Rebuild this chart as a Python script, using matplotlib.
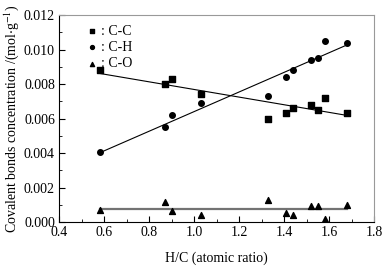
import numpy as np
import matplotlib.pyplot as plt
from matplotlib.ticker import MultipleLocator

plt.rcParams['font.family'] = ['Liberation Serif', 'DejaVu Serif']
plt.rcParams['mathtext.fontset'] = 'stix'

# H/C atomic ratio of each sample
hc = [0.58, 0.87, 0.90, 1.03, 1.33, 1.41, 1.44, 1.52, 1.55, 1.58, 1.68]

# bond concentrations (mol/g)
cc = [0.0088, 0.0080, 0.0083, 0.0074, 0.0060, 0.0063, 0.0066, 0.0068, 0.0065, 0.0072, 0.0063]
ch = [0.00405, 0.0055, 0.0062, 0.0069, 0.0073, 0.0084, 0.0088, 0.0094, 0.0095, 0.0105, 0.0104]
co = [0.0007, 0.00115, 0.00063, 0.00043, 0.00127, 0.00051, 0.00043, 0.00096, 0.00096, 0.0002, 0.00098]

fig, ax = plt.subplots(figsize=(3.89, 2.66), dpi=100)
fig.subplots_adjust(left=0.152, right=0.962, top=0.943, bottom=0.165)

x = np.array(hc)
xl = np.array([x.min(), x.max()])

# linear fits
for y, c, lw in [(cc, 'k', 0.8), (ch, 'k', 0.8), (co, '0.45', 1.6)]:
    k, b = np.polyfit(x, y, 1)
    if y is co:
        k, b = 0, np.mean(y)
    ax.plot(xl, k * xl + b, color=c, lw=lw, zorder=1)

ax.scatter(hc, cc, marker='s', s=16, color='k', label=': C-C', zorder=3)
ax.scatter(hc, ch, marker='o', s=16, color='k', label=': C-H', zorder=3)
ax.scatter(hc, co, marker='^', s=18, color='k', label=': C-O', zorder=3)

ax.set_xlim(0.4, 1.8)
ax.set_ylim(0, 0.012)
ax.xaxis.set_major_locator(MultipleLocator(0.2))
ax.xaxis.set_minor_locator(MultipleLocator(0.1))
ax.yaxis.set_major_locator(MultipleLocator(0.002))
ax.yaxis.set_minor_locator(MultipleLocator(0.001))
ax.xaxis.set_major_formatter(plt.FormatStrFormatter('%.1f'))
ax.yaxis.set_major_formatter(plt.FormatStrFormatter('%.3f'))
ax.tick_params(which='both', direction='in', top=False, right=False, labelsize=10, pad=3)
ax.tick_params(which='major', length=4)
ax.tick_params(which='minor', length=2)
for s in ['top', 'right']:
    ax.spines[s].set_color('0.6')
for s in ax.spines.values():
    s.set_linewidth(0.8)

ax.set_xlabel('H/C (atomic ratio)', fontsize=10, labelpad=9)
ax.set_ylabel('Covalent bonds concentration /(mol$\\cdot$g$^{-1}$)', fontsize=10, labelpad=2)

ax.legend(loc='upper left', bbox_to_anchor=(0.05, 0.995), frameon=False, fontsize=10,
          handletextpad=0.1, labelspacing=0.25, handlelength=1.2, markerscale=0.7,
          borderaxespad=0.2)

plt.savefig('out.png', dpi=100)
